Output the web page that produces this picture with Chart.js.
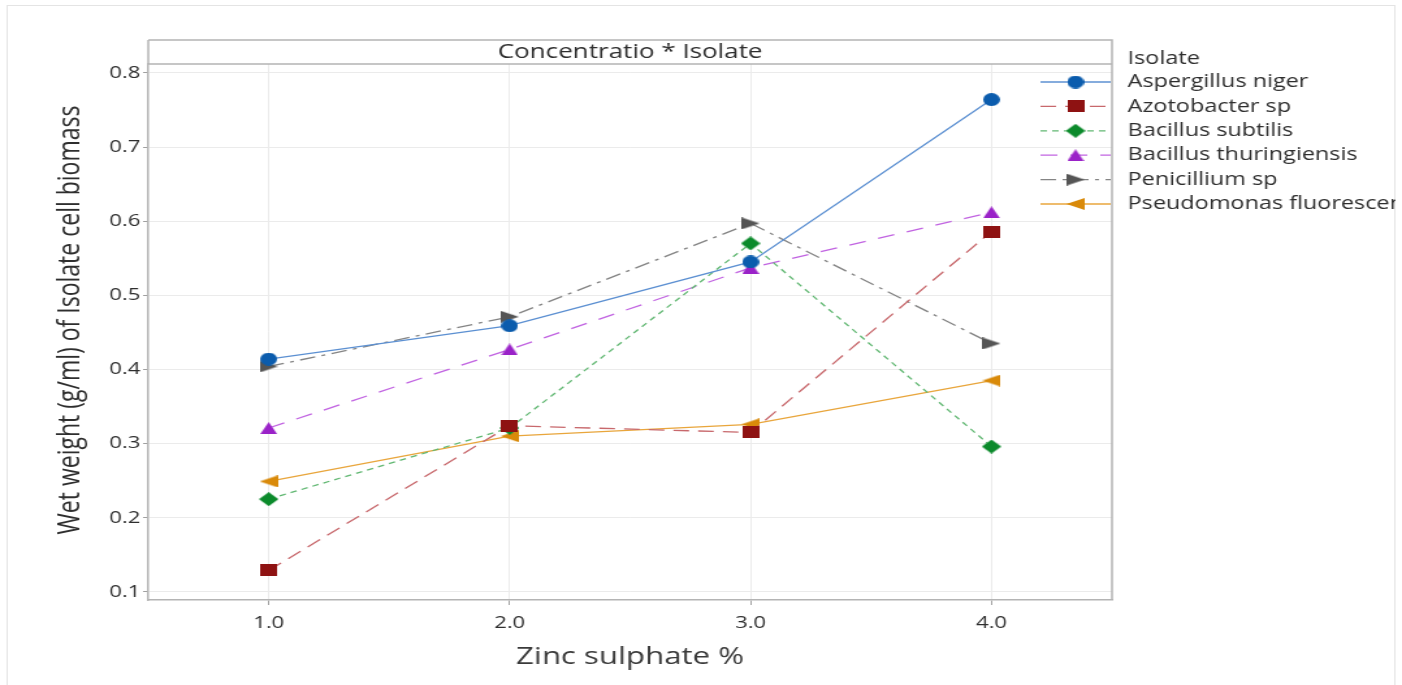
<!DOCTYPE html>
<html>
<head>
<meta charset="utf-8">
<script src="https://cdn.jsdelivr.net/npm/chart.js@4"></script>
<style>
  html, body { margin: 0; padding: 0; background: #fff; overflow: hidden; }
  canvas { display: block; }
</style>
</head>
<body>
<!-- drawn narrow, shown wide: the plot keeps its stretched Minitab look -->
<canvas id="biomassChart" width="1078" height="685" style="width:1402px;height:685px"></canvas>
<script>
// Zinc sulphate concentration (%) on the x axis
const concentrations = [1.0, 2.0, 3.0, 4.0]
const xTickValues = [1.0, 2.0, 3.0, 4.0]
const yTickValues = [0.1, 0.2, 0.3, 0.4, 0.5, 0.6, 0.7, 0.8]

const isolates = [
  'Aspergillus niger',
  'Azotobacter sp',
  'Bacillus subtilis',
  'Bacillus thuringiensis',
  'Penicillium sp',
  'Pseudomonas fluorescens',
]

// wet weight (g/ml) of cell biomass per isolate
const aspergillus = [0.414, 0.459, 0.545, 0.764]
const azotobacter = [0.129, 0.324, 0.315, 0.586]
const subtilis = [0.225, 0.321, 0.570, 0.296]
const thuringiensis = [0.321, 0.427, 0.537, 0.612]
const penicillium = [0.404, 0.471, 0.597, 0.435]
const pseudomonas = [0.249, 0.310, 0.326, 0.385]

const seriesValues = [aspergillus, azotobacter, subtilis, thuringiensis, penicillium, pseudomonas]

// marker shape, marker colour, line colour, dash pattern
const looks = [
  { shape: 'circle', fill: '#0b5cad', line: '#5c90d2', dash: [], w: 13, h: 13 },
  { shape: 'square', fill: '#8e1212', line: '#c8686c', dash: [12, 7], w: 13, h: 12 },
  { shape: 'diamond', fill: '#0b8a2b', line: '#62b873', dash: [5, 4], w: 15, h: 14 },
  { shape: 'up', fill: '#9a22c8', line: '#c265e2', dash: [13, 10], w: 13, h: 12 },
  { shape: 'right', fill: '#555555', line: '#858585', dash: [12, 5, 3, 5], w: 14, h: 12 },
  { shape: 'left', fill: '#d98a0a', line: '#e9a63c', dash: [], w: 14, h: 12 },
]

function makeMarker(shape, color, w, h) {
  const c = document.createElement('canvas')
  c.width = w
  c.height = h
  const g = c.getContext('2d')
  g.fillStyle = color
  g.beginPath()
  if (shape === 'circle') g.ellipse(w / 2, h / 2, w / 2, h / 2, 0, 0, Math.PI * 2)
  else if (shape === 'square') g.rect(0, 0, w, h)
  else if (shape === 'diamond') { g.moveTo(w / 2, 0); g.lineTo(w, h / 2); g.lineTo(w / 2, h); g.lineTo(0, h / 2) }
  else if (shape === 'up') { g.moveTo(w / 2, 0); g.lineTo(w, h); g.lineTo(0, h) }
  else if (shape === 'right') { g.moveTo(0, 0); g.lineTo(w, h / 2); g.lineTo(0, h) }
  else if (shape === 'left') { g.moveTo(w, 0); g.lineTo(0, h / 2); g.lineTo(w, h) }
  g.closePath()
  g.fill()
  return c
}

const markers = looks.map(l => makeMarker(l.shape, l.fill, l.w, l.h))

const datasets = isolates.map((name, i) => ({
  label: name,
  data: concentrations.map((x, j) => ({ x: x, y: seriesValues[i][j] })),
  borderColor: looks[i].line,
  backgroundColor: looks[i].fill,
  borderWidth: 1.3,
  borderDash: looks[i].dash,
  pointStyle: markers[i],
  pointRadius: 7,
  tension: 0,
}))

// outer frame, panel box with its strip header, y title and the series key
const panelPlugin = {
  id: 'panel',
  beforeDraw(chart) {
    const ctx = chart.ctx
    ctx.save()
    ctx.fillStyle = '#fff'
    ctx.fillRect(0, 0, chart.width, chart.height)
    ctx.strokeStyle = '#e4e4e4'
    ctx.lineWidth = 1
    ctx.strokeRect(5.5, 5.5, chart.width - 11, chart.height + 20)
    ctx.restore()
  },
  afterDatasetsDraw(chart) {
    const { ctx, chartArea: a } = chart
    const stripTop = a.top - 24
    ctx.save()
    ctx.strokeStyle = '#b4b4b4'
    ctx.lineWidth = 1.5
    ctx.beginPath()
    ctx.moveTo(a.left, stripTop)
    ctx.lineTo(a.right, stripTop)
    ctx.lineTo(a.right, a.bottom)
    ctx.moveTo(a.left, stripTop)
    ctx.lineTo(a.left, a.top)
    ctx.moveTo(a.left, a.top)
    ctx.lineTo(a.right, a.top)
    ctx.stroke()
    ctx.fillStyle = '#2e2e2e'
    ctx.font = '20px "Open Sans"'
    ctx.textAlign = 'center'
    ctx.textBaseline = 'middle'
    ctx.fillText('Concentratio * Isolate', (a.left + a.right) / 2, stripTop + 12)

    // y axis title, set a little above the plot's middle
    ctx.translate(54, (stripTop + a.bottom) / 2)
    ctx.rotate(-Math.PI / 2)
    ctx.font = '23px "Open Sans"'
    ctx.fillText('Wet weight (g/ml) of Isolate cell biomass', 0, 0)
    ctx.restore()
  },
  afterDraw(chart) {
    const ctx = chart.ctx
    ctx.save()
    ctx.beginPath()
    ctx.rect(0, 0, chart.width - 5, chart.height)
    ctx.clip()
    ctx.fillStyle = '#2e2e2e'
    ctx.font = '18px "Open Sans"'
    ctx.textAlign = 'left'
    ctx.textBaseline = 'middle'
    ctx.fillText('Isolate', 867, 59)
    chart.data.datasets.forEach((ds, i) => {
      const y = 82 + i * 24.4
      ctx.strokeStyle = ds.borderColor
      ctx.lineWidth = 1.3
      ctx.setLineDash(ds.borderDash)
      ctx.beginPath()
      ctx.moveTo(800, y)
      ctx.lineTo(854, y)
      ctx.stroke()
      ctx.setLineDash([])
      const m = ds.pointStyle
      ctx.drawImage(m, 827 - m.width / 2, y - m.height / 2)
      ctx.fillText(ds.label, 867, y)
    })
    ctx.restore()
  },
}

Chart.defaults.font.family = '"Open Sans", sans-serif'
Chart.defaults.color = '#2e2e2e'

const ctx = document.getElementById('biomassChart').getContext('2d')
const biomassChart = new Chart(ctx, {
  type: 'line',
  data: { datasets: datasets },
  options: {
    responsive: false,
    animation: false,
    layout: { padding: { left: 0, right: 223, top: 64, bottom: 0 } },
    plugins: {
      legend: { display: false },
      tooltip: { enabled: false },
    },
    scales: {
      x: {
        type: 'linear',
        min: 0.5,
        max: 4.5,
        afterFit: scale => { scale.height = 85 },
        afterBuildTicks: scale => { scale.ticks = xTickValues.map(v => ({ value: v })) },
        grid: { color: '#ebebeb', tickColor: '#a0a0a0', tickLength: 5 },
        border: { color: '#b4b4b4', width: 1.5 },
        ticks: {
          font: { size: 17 },
          color: '#2e2e2e',
          padding: 8,
          maxRotation: 0,
          callback: v => v.toFixed(1),
        },
        title: {
          display: true,
          text: 'Zinc sulphate %',
          font: { size: 24 },
          color: '#3a3a3a',
          padding: { top: 0, bottom: 13 },
        },
      },
      y: {
        type: 'linear',
        min: 0.089,
        max: 0.812,
        afterFit: scale => { scale.width = 114 },
        afterBuildTicks: scale => { scale.ticks = yTickValues.map(v => ({ value: v })) },
        grid: { color: '#ebebeb', tickColor: '#a0a0a0', tickLength: 4 },
        border: { color: '#b4b4b4', width: 1.5 },
        ticks: {
          font: { size: 17 },
          color: '#2e2e2e',
          padding: 2,
          callback: v => v.toFixed(1),
        },
      },
    },
  },
  plugins: [panelPlugin],
})
</script>
</body>
</html>
